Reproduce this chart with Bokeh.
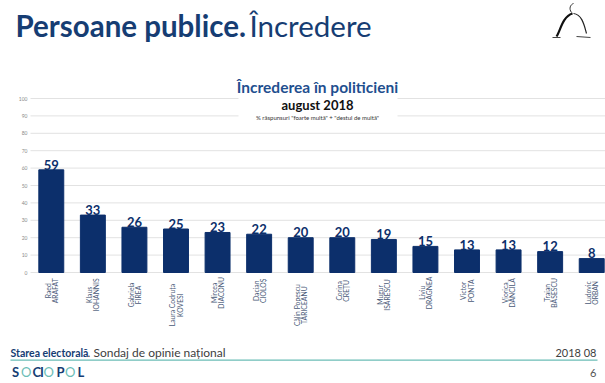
import math
from bokeh.plotting import figure
from bokeh.models import Label, BoxAnnotation, Range1d
from bokeh.embed import file_html
from bokeh.resources import INLINE
from bokeh.core.properties import value

first_names = ["Raed", "Klaus", "Gabriela", "Laura Codruța", "Mircea", "Dacian",
               "Călin Popescu", "Corina", "Mugur", "Liviu", "Victor", "Viorica",
               "Traian", "Ludovic"]
last_names = ["ARAFAT", "IOHANNIS", "FIREA", "KOVESI", "DIACONU", "CIOLOȘ",
              "TĂRICEANU", "CREȚU", "ISĂRESCU", "DRAGNEA", "PONTA", "DĂNCILĂ",
              "BĂSESCU", "ORBAN"]
trust = [59, 33, 26, 25, 23, 22, 20, 20, 19, 15, 13, 13, 12, 8]
y_ticks = [0, 10, 20, 30, 40, 50, 60, 70, 80, 90, 100]

NAVY = "#0c2f6b"
TITLE_NAVY = "#163d73"
TEAL = "#6bbdb6"
FONT = "Lato"

W, H = 605, 383
PAGE_LEFT, PAGE_TOP = 0, 0
PAGE_RIGHT, PAGE_BOTTOM = PAGE_LEFT + W, PAGE_TOP + H
PLOT_LEFT, PLOT_RIGHT = 30, 612   # category band (last bar runs off the page edge)
ZERO_PAGE, HUNDRED_PAGE = 272, 98
n = len(trust)
cat_px = (PLOT_RIGHT - PLOT_LEFT) / n
y_px = (ZERO_PAGE - HUNDRED_PAGE) / 100.0


def sx(px):
    """page pixel x -> category-index units"""
    return (px - PLOT_LEFT) / cat_px


def sy(py):
    """page pixel y -> value units"""
    return (ZERO_PAGE - py) / y_px


positions = [i + 0.5 for i in range(n)]

p = figure(width=W, height=H, output_backend="svg", toolbar_location=None,
           x_range=Range1d(sx(PAGE_LEFT), sx(PAGE_RIGHT)),
           y_range=Range1d(sy(PAGE_BOTTOM), sy(PAGE_TOP)), min_border=0)
p.axis.visible = False
p.grid.grid_line_color = None
p.outline_line_color = None

# horizontal grid lines at the value ticks
p.segment(x0=[sx(PLOT_LEFT)] * len(y_ticks), x1=[sx(PAGE_RIGHT)] * len(y_ticks),
          y0=y_ticks, y1=y_ticks, line_color="#e2e2e2", line_width=1)
# value-axis tick labels
p.text(x=[sx(27)] * len(y_ticks), y=y_ticks, text=[str(t) for t in y_ticks],
       text_align="right", text_baseline="middle", text_font=value(FONT),
       text_font_size="5px", text_color="#8a8a8a")

# bars and their values
p.vbar(x=positions, top=trust, width=0.6, color=NAVY)
p.text(x=positions, y=[v + 3 for v in trust], text=[str(v) for v in trust],
       text_align="center", text_baseline="alphabetic", text_font=value(FONT),
       text_font_style="bold", text_font_size="13px", text_color=NAVY)

# category labels: two rotated lines, centred in a block hanging from the axis
char_px = 4.1
block_mid = [sy(278 + char_px * max(len(a), len(b)) / 2)
             for a, b in zip(first_names, last_names)]
p.text(x=positions, y=block_mid, text=first_names, angle=math.pi / 2, x_offset=-3.6,
       text_align="center", text_baseline="middle", text_font=value(FONT),
       text_font_size="6.8px", text_color="#4a5a78")
p.text(x=positions, y=block_mid, text=last_names, angle=math.pi / 2, x_offset=3.6,
       text_align="center", text_baseline="middle", text_font=value(FONT),
       text_font_size="6.8px", text_color="#4a5a78")


def lab(text, x, y, size, color, style="normal", align="left", baseline="middle"):
    p.add_layout(Label(x=sx(x), y=sy(y), x_units="data", y_units="data", text=text,
                       text_font=FONT, text_font_size=f"{size}px", text_color=color,
                       text_font_style=style, text_align=align, text_baseline=baseline))


# page header
lab("Persoane publice.", 15, 25, 29.5, TITLE_NAVY, "bold")
lab("Încredere", 249, 25, 29.5, TITLE_NAVY, "normal")

# small sketch logo (top right)
p.bezier(x0=[sx(572)], y0=[sy(13)], x1=[sx(556)], y1=[sy(36)],
         cx0=[sx(562)], cy0=[sy(16)], cx1=[sx(560)], cy1=[sy(30)],
         line_color="#111111", line_width=2.2)
p.bezier(x0=[sx(573)], y0=[sy(13)], x1=[sx(586)], y1=[sy(33)],
         cx0=[sx(582)], cy0=[sy(14)], cx1=[sx(584)], cy1=[sy(26)],
         line_color="#222222", line_width=1.2)
p.bezier(x0=[sx(571)], y0=[sy(12)], x1=[sx(573)], y1=[sy(3)],
         cx0=[sx(568)], cy0=[sy(8)], cx1=[sx(570)], cy1=[sy(4)],
         line_color="#333333", line_width=1)
p.segment(x0=[sx(552), sx(576)], y0=[sy(37), sy(36)], x1=[sx(560), sx(590)],
          y1=[sy(37), sy(37)], line_color="#444444", line_width=1.2)

# white panel behind chart titles + titles
p.add_layout(BoxAnnotation(left=sx(238), right=sx(397), top=sy(75), bottom=sy(122),
                           fill_color="white", fill_alpha=1, line_color=None))
lab("Încrederea în politicieni", 317, 86, 15.5, "#1f4f8f", "bold", align="center")
lab("august 2018", 317, 104, 13, "#111111", "bold", align="center")
lab("% răspunsuri \"foarte multă\" + \"destul de multă\"", 317, 117, 6, "#333333",
    align="center")

# footer
lab("Starea electorală", 10, 352, 10.5, TITLE_NAVY, "bold")
lab(". Sondaj de opinie național", 87, 352, 12, "#404040")
lab("2018 08", 596, 352, 11, "#404040", align="right")
p.add_layout(BoxAnnotation(left=sx(10), right=sx(597), top=sy(359), bottom=sy(360.3),
                           fill_color=TEAL, fill_alpha=1, line_color=None))
letters = ["S", "O", "C", "I", "O", "P", "O", "L"]
letter_x = [11.5, 20.5, 32, 39.5, 43, 56, 64.5, 77]
for ch, lx in zip(letters, letter_x):
    lab(ch, lx, 371.5, 13, TEAL if ch == "O" else TITLE_NAVY,
        "normal" if ch == "O" else "bold")
lab("6", 596, 372, 11, "#555555", align="right")

open("out.html", "w").write(file_html(p, INLINE))
